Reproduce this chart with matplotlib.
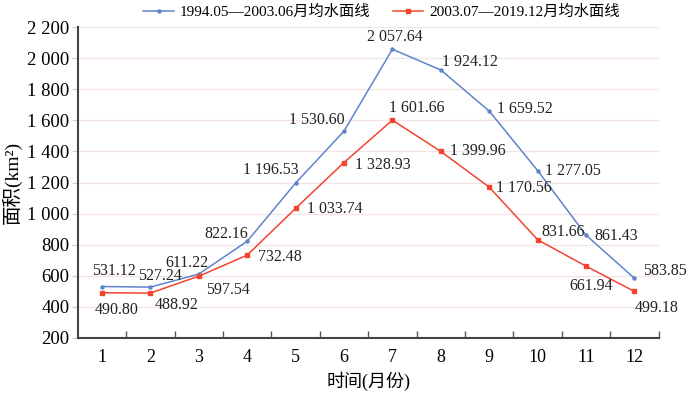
import matplotlib
matplotlib.use("Agg")
import matplotlib.pyplot as plt
from matplotlib.ticker import FixedLocator, FuncFormatter

months = list(range(1, 13))
series1_name = "1994.05\u20142003.06月均水面线"
series2_name = "2003.07\u20142019.12月均水面线"
series1 = [531.12, 527.24, 611.22, 822.16, 1196.53, 1530.60, 2057.64, 1924.12, 1659.52, 1277.05, 861.43, 583.85]
series2 = [490.80, 488.92, 597.54, 732.48, 1033.74, 1328.93, 1601.66, 1399.96, 1170.56, 831.66, 661.94, 499.18]
yticks = list(range(200, 2201, 200))

# label offsets in pixels (dx, dy with image-down positive)
off1 = [(12, -16), (10, -11), (-12, -11), (-21, -7), (-25, -13), (-27, -11),
        (2, -12), (29, -8), (36, -2), (35, 0), (30, 1), (30, -7)]
off2 = [(15, 17), (26, 12), (29, 14), (33, 2), (39, 1), (39, 2),
        (24, -12), (37, 0), (35, 1), (25, -8), (5, 20), (22, 17)]

SERIF = ["Liberation Serif", "Noto Sans CJK SC", "DejaVu Sans"]
plt.rcParams["font.family"] = SERIF

def fmt(v, dec=2):
    s = f"{v:,.{dec}f}" if dec else f"{v:,.0f}"
    return s.replace(",", " ")

fig = plt.figure(figsize=(7, 3.93), dpi=100)
ax = fig.add_axes([0.111, 0.140, 0.830, 0.791])

blue = "#5f84cc"
red = "#f2442f"
ax.plot(months, series1, color=blue, lw=1.1, marker="o", ms=2.2, label=series1_name, zorder=3)
ax.plot(months, series2, color=red, lw=1.1, marker="s", ms=3.2, label=series2_name, zorder=3)

for x, v, (dx, dy) in zip(months, series1, off1):
    ax.annotate(fmt(v), (x, v), xytext=(dx, -dy), textcoords="offset pixels",
                ha="center", va="center", fontsize=11.5, color="#222222")
for x, v, (dx, dy) in zip(months, series2, off2):
    ax.annotate(fmt(v), (x, v), xytext=(dx, -dy), textcoords="offset pixels",
                ha="center", va="center", fontsize=11.5, color="#222222")

ax.set_xlim(0.5, 12.5)
ax.set_ylim(200, 2200)
ax.set_yticks(yticks)
ax.yaxis.set_major_formatter(FuncFormatter(lambda v, p: fmt(v, 0)))
ax.set_xticks(months)
ax.xaxis.set_minor_locator(FixedLocator([m + 0.5 for m in range(1, 13)]))
ax.tick_params(axis="x", which="major", length=0, labelsize=13, pad=8)
ax.tick_params(axis="x", which="minor", direction="in", length=5, width=1, color="#555555")
ax.tick_params(axis="y", which="major", direction="out", length=4, width=0.8, color="#cccccc", labelsize=13.5, pad=2)
ax.grid(axis="y", color="#f3e3e3", lw=0.9, zorder=0)
for s in ["top", "right"]:
    ax.spines[s].set_visible(False)
for s in ["left", "bottom"]:
    ax.spines[s].set_color("#444444")
    ax.spines[s].set_linewidth(1.5)

ax.set_ylabel("面积(km²)", fontsize=14, labelpad=4)
ax.set_xlabel("时间(月份)", fontsize=13, labelpad=4)

leg = fig.legend(loc="center", bbox_to_anchor=(0.545, 0.97), ncol=2, frameon=False,
                 fontsize=11, handlelength=2.0, columnspacing=1.45, handletextpad=0.4)

fig.savefig("out.png", dpi=100)
